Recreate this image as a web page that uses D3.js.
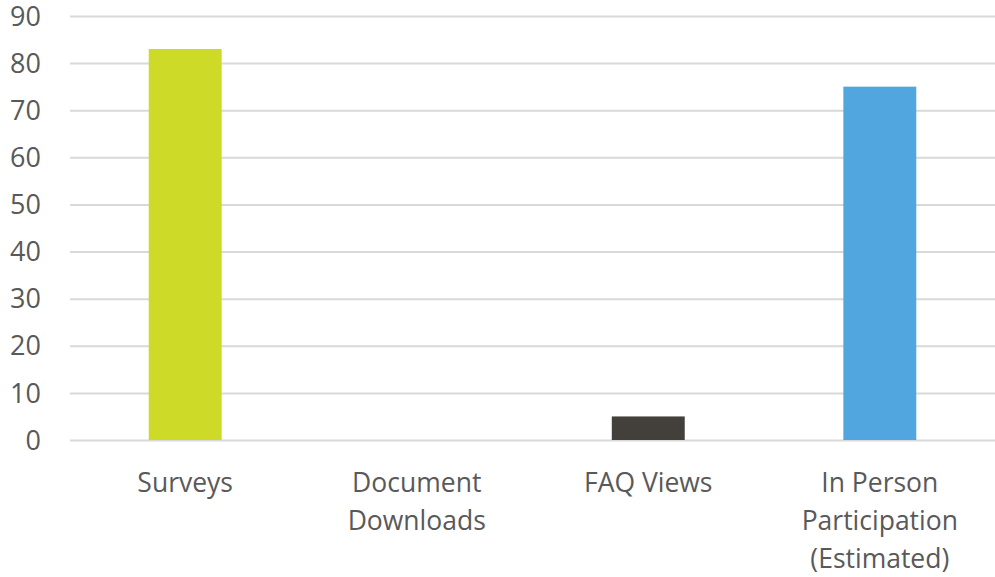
<!DOCTYPE html>
<html>
<head>
<meta charset="utf-8">
<script src="https://cdn.jsdelivr.net/npm/d3@7"></script>
<style>
  body { margin: 0; background: #fff; }
  svg text { font-family: "Open Sans", sans-serif; fill: #595959; }
  .grid line { stroke: #d9d9d9; stroke-width: 2; }
  .grid path { display: none; }
</style>
</head>
<body>
<div id="chart"></div>
<script>
var categories = ["Surveys", "Document Downloads", "FAQ Views", "In Person Participation (Estimated)"];
var labelLines = [["Surveys"], ["Document", "Downloads"], ["FAQ Views"], ["In Person", "Participation", "(Estimated)"]];
var values = [83, 0, 5, 75];
var colors = ["#cddb28", "#cddb28", "#433f3a", "#52a6df"];
var yTicks = [0, 10, 20, 30, 40, 50, 60, 70, 80, 90];

var width = 995, height = 577;
var margin = {top: 16, right: 0, bottom: 137, left: 70};

var svg = d3.select("#chart").append("svg")
    .attr("width", width)
    .attr("height", height);

var x = d3.scaleBand()
    .domain(categories)
    .range([margin.left, width - margin.right])
    .paddingInner(0.685)
    .paddingOuter(0.34);

var y = d3.scaleLinear()
    .domain([0, 90])
    .range([height - margin.bottom, margin.top]);

// gridlines
svg.append("g")
    .attr("class", "grid")
    .attr("transform", "translate(" + margin.left + ",0)")
    .call(d3.axisLeft(y).tickValues(yTicks).tickSize(-(width - margin.left - margin.right)).tickFormat(""));

// y tick labels
svg.append("g")
    .selectAll("text")
    .data(yTicks)
    .enter().append("text")
    .attr("x", 41)
    .attr("y", function(d) { return y(d); })
    .attr("dy", "0.36em")
    .attr("text-anchor", "end")
    .style("font-size", "27px")
    .text(function(d) { return d; });

// bars
svg.append("g")
    .selectAll("rect")
    .data(values)
    .enter().append("rect")
    .attr("x", function(d, i) { return x(categories[i]); })
    .attr("y", function(d) { return y(d); })
    .attr("width", x.bandwidth())
    .attr("height", function(d) { return y(0) - y(d); })
    .attr("fill", function(d, i) { return colors[i]; });

// category labels
var lab = svg.append("g")
    .selectAll("text")
    .data(categories)
    .enter().append("text")
    .attr("x", function(d) { return x(d) + x.bandwidth() / 2; })
    .attr("y", 492)
    .attr("text-anchor", "middle")
    .style("font-size", "26.5px");

lab.selectAll("tspan")
    .data(function(d, i) { return labelLines[i]; })
    .enter().append("tspan")
    .attr("x", function() { return d3.select(this.parentNode).attr("x"); })
    .attr("dy", function(d, j) { return j == 0 ? 0 : 38; })
    .text(function(d) { return d; });
</script>
</body>
</html>
